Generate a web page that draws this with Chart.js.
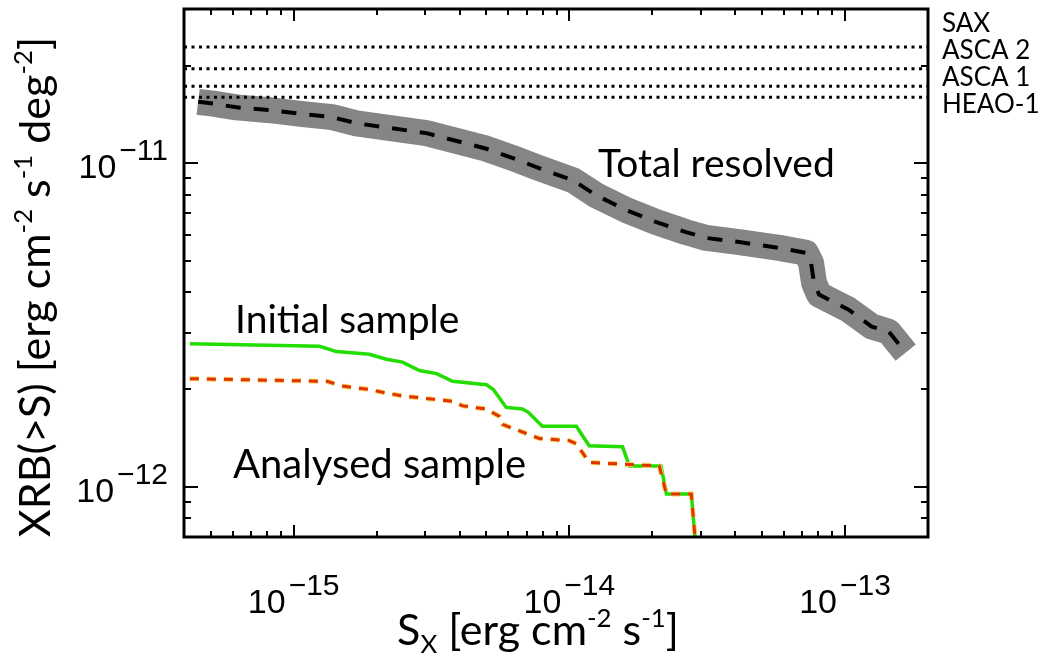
<!DOCTYPE html>
<html>
<head>
<meta charset="utf-8">
<script src="https://cdn.jsdelivr.net/npm/chart.js@4.4.0/dist/chart.umd.min.js"></script>
<style>
    html, body { margin: 0; padding: 0; background: #fff; }
    #wrap { width: 1043px; height: 662px; }
</style>
</head>
<body>
<div id="wrap"><canvas id="xrbChart" width="1043" height="662"></canvas></div>
<script>
// axis limits and labelled decades
const xMin = 4e-16, xMax = 2e-13;
const yMin = 7e-13, yMax = 3e-11;
const xTickExps = [-15, -14, -13];
const yTickExps = [-11, -12];

// XRB normalisation from the different missions
const bkgNames = ['SAX', 'ASCA 2', 'ASCA 1', 'HEAO-1'];
const bkgLevels = [2.29e-11, 1.96e-11, 1.73e-11, 1.60e-11];

// total resolved fraction (dashed line + grey band)
const totalFlux = [4.5e-16, 5.1e-16, 6.2e-16, 8.2e-16, 1.08e-15, 1.38e-15, 1.69e-15, 3.03e-15, 5.0e-15,
    6.6e-15, 7.8e-15, 1.03e-14, 1.25e-14, 1.61e-14, 2.07e-14, 2.65e-14, 3.14e-14, 4.13e-14, 5.77e-14,
    7.22e-14, 7.53e-14, 7.72e-14, 8.05e-14, 1.03e-13, 1.25e-13, 1.44e-13, 1.66e-13];
const totalXrb = [1.55e-11, 1.53e-11, 1.49e-11, 1.46e-11, 1.42e-11, 1.39e-11, 1.33e-11, 1.24e-11, 1.11e-11,
    1.02e-11, 9.65e-12, 8.87e-12, 7.97e-12, 7.17e-12, 6.58e-12, 6.13e-12, 5.88e-12, 5.71e-12, 5.48e-12,
    5.29e-12, 4.92e-12, 4.27e-12, 3.93e-12, 3.53e-12, 3.13e-12, 3.02e-12, 2.60e-12];

// initial sample (green)
const initFlux = [4.2e-16, 1.24e-15, 1.43e-15, 1.88e-15, 2.17e-15, 2.48e-15, 2.86e-15, 3.3e-15, 3.77e-15,
    5.0e-15, 5.3e-15, 5.9e-15, 6.76e-15, 7.1e-15, 7.98e-15, 1.06e-14, 1.18e-14, 1.56e-14, 1.65e-14,
    2.15e-14, 2.25e-14, 2.77e-14, 2.9e-14];
const initXrb = [2.77e-12, 2.72e-12, 2.62e-12, 2.57e-12, 2.48e-12, 2.43e-12, 2.29e-12, 2.24e-12, 2.12e-12,
    2.07e-12, 2.0e-12, 1.76e-12, 1.74e-12, 1.70e-12, 1.54e-12, 1.54e-12, 1.34e-12, 1.33e-12, 1.16e-12,
    1.16e-12, 9.5e-13, 9.5e-13, 6e-13];

// analysed sample (orange dashed)
const anaFlux = [4.2e-16, 1.32e-15, 1.5e-15, 1.88e-15, 2.1e-15, 2.48e-15, 3.77e-15, 4.1e-15, 5.0e-15,
    5.58e-15, 5.72e-15, 6.59e-15, 7.79e-15, 1.0e-14, 1.06e-14, 1.18e-14, 2.12e-14, 2.25e-14, 2.77e-14, 2.9e-14];
const anaXrb = [2.16e-12, 2.12e-12, 2.05e-12, 2.0e-12, 1.96e-12, 1.91e-12, 1.84e-12, 1.78e-12, 1.74e-12,
    1.65e-12, 1.56e-12, 1.49e-12, 1.41e-12, 1.39e-12, 1.36e-12, 1.19e-12, 1.16e-12, 9.5e-13, 9.5e-13, 6e-13];

const HAND = 'Lato, "Open Sans", sans-serif';
const NUM = '"Liberation Sans", Arial, sans-serif';

const toXY = (xs, ys) => xs.map((v, i) => ({ x: v, y: ys[i] }));

// text with super/subscripts: parts = [[text, mode]], mode 1 = sup, -1 = sub
function drawRich(ctx, parts, cx, baseline, size) {
    const small = size * 0.6;
    let w = 0;
    parts.forEach(([t, m]) => {
        ctx.font = (m ? small : size) + 'px ' + HAND;
        w += ctx.measureText(t).width;
    });
    let px = cx - w / 2;
    ctx.textAlign = 'left';
    ctx.textBaseline = 'alphabetic';
    parts.forEach(([t, m]) => {
        ctx.font = (m ? small : size) + 'px ' + HAND;
        const dy = m === 1 ? -size * 0.42 : (m === -1 ? size * 0.18 : 0);
        ctx.fillText(t, px, baseline + dy);
        px += ctx.measureText(t).width;
    });
}

// "10^exp" tick label; align 'center' or 'right'
function drawPow(ctx, exp, x, baseline, align) {
    const base = '10', sup = '\u2212' + Math.abs(exp);
    ctx.font = '34px ' + NUM;
    const wb = ctx.measureText(base).width;
    ctx.font = '30px ' + NUM;
    const ws = ctx.measureText(sup).width;
    const gap = 3;
    const total = wb + gap + ws;
    let left = align === 'right' ? x - total : x - total / 2;
    ctx.textAlign = 'left';
    ctx.textBaseline = 'alphabetic';
    ctx.font = '34px ' + NUM;
    ctx.fillText(base, left, baseline);
    ctx.font = '30px ' + NUM;
    ctx.fillText(sup, left + wb + gap, baseline - 18);
}

const frameAndText = {
    id: 'frameAndText',
    afterDatasetsDraw(chart) {
        const { ctx, chartArea: a, scales: { x, y } } = chart;
        ctx.save();
        ctx.strokeStyle = '#000';
        ctx.fillStyle = '#000';

        // inward ticks on all four sides
        ctx.lineWidth = 2;
        ctx.beginPath();
        for (let e = -16; e <= -13; e++) {
            for (let k = 1; k <= 9; k++) {
                const v = k * Math.pow(10, e);
                if (v <= xMin * 1.001 || v >= xMax * 0.999) continue;
                const px = Math.round(x.getPixelForValue(v));
                const len = k === 1 ? 12 : 6;
                ctx.moveTo(px, a.bottom); ctx.lineTo(px, a.bottom - len);
                ctx.moveTo(px, a.top); ctx.lineTo(px, a.top + len);
            }
        }
        for (let e = -13; e <= -11; e++) {
            for (let k = 1; k <= 9; k++) {
                const v = k * Math.pow(10, e);
                if (v <= yMin * 1.001 || v >= yMax * 0.999) continue;
                const py = Math.round(y.getPixelForValue(v));
                const len = k === 1 ? 14 : 7;
                ctx.moveTo(a.left, py); ctx.lineTo(a.left + len, py);
                ctx.moveTo(a.right, py); ctx.lineTo(a.right - len, py);
            }
        }
        ctx.stroke();

        // frame
        ctx.lineWidth = 3;
        ctx.strokeRect(a.left, a.top, a.right - a.left, a.bottom - a.top);

        // tick labels
        xTickExps.forEach(e => drawPow(ctx, e, x.getPixelForValue(Math.pow(10, e)), a.bottom + 76, 'center'));
        yTickExps.forEach(e => drawPow(ctx, e, a.left - 16, y.getPixelForValue(Math.pow(10, e)) + 15, 'right'));

        // axis titles
        drawRich(ctx, [['S', 0], ['X', -1], [' [erg cm', 0], ['-2', 1], [' s', 0], ['-1', 1], [']', 0]], 538, 645, 43);
        ctx.save();
        ctx.translate(50, 287);
        ctx.rotate(-Math.PI / 2);
        drawRich(ctx, [['XRB(>S) [erg cm', 0], ['-2', 1], [' s', 0], ['-1', 1], [' deg', 0], ['-2', 1], [']', 0]], 0, 0, 43);
        ctx.restore();

        // curve annotations
        ctx.textAlign = 'left';
        ctx.textBaseline = 'alphabetic';
        ctx.font = '39px ' + HAND;
        ctx.fillText('Total resolved', 598, 177);
        ctx.fillText('Initial sample', 235, 333);
        ctx.font = '40px ' + HAND;
        ctx.fillText('Analysed sample', 233, 478);

        // mission names, stacked at the right
        ctx.font = '26px ' + HAND;
        bkgNames.forEach((n, i) => ctx.fillText(n, a.right + 14, 32 + i * 27));

        ctx.restore();
    }
};

const levelSets = bkgLevels.map((lv, i) => ({
    label: bkgNames[i],
    data: [{ x: xMin, y: lv }, { x: xMax, y: lv }],
    borderColor: '#000',
    borderWidth: 3,
    borderDash: [3, 4.5],
    pointRadius: 0
}));

new Chart(document.getElementById('xrbChart'), {
    type: 'line',
    data: {
        datasets: [
            ...levelSets,
            {
                label: 'Total resolved',
                data: toXY(totalFlux, totalXrb),
                borderColor: '#000',
                borderWidth: 4,
                borderDash: [15, 13],
                pointRadius: 0
            },
            {
                label: 'Analysed sample',
                data: toXY(anaFlux, anaXrb),
                borderColor: '#e03400',
                borderWidth: 3,
                borderDash: [9, 8],
                pointRadius: 0
            },
            {
                label: 'Analysed halo',
                data: toXY(anaFlux, anaXrb),
                borderColor: '#f4d25a',
                borderWidth: 5,
                borderDash: [9, 8],
                pointRadius: 0
            },
            {
                label: 'Initial sample',
                data: toXY(initFlux, initXrb),
                borderColor: '#22dd00',
                borderWidth: 3.5,
                pointRadius: 0
            },
            {
                label: 'band',
                data: toXY(totalFlux, totalXrb),
                borderColor: '#858585',
                borderWidth: 26,
                borderCapStyle: 'butt',
                borderJoinStyle: 'round',
                pointRadius: 0
            }
        ]
    },
    options: {
        responsive: false,
        animation: false,
        events: [],
        layout: { padding: { left: 184, right: 115, top: 9, bottom: 125 } },
        elements: { line: { tension: 0, fill: false } },
        plugins: { legend: { display: false }, tooltip: { enabled: false } },
        scales: {
            x: { type: 'logarithmic', min: xMin, max: xMax, display: false },
            y: { type: 'logarithmic', min: yMin, max: yMax, display: false }
        }
    },
    plugins: [frameAndText]
});
</script>
</body>
</html>
